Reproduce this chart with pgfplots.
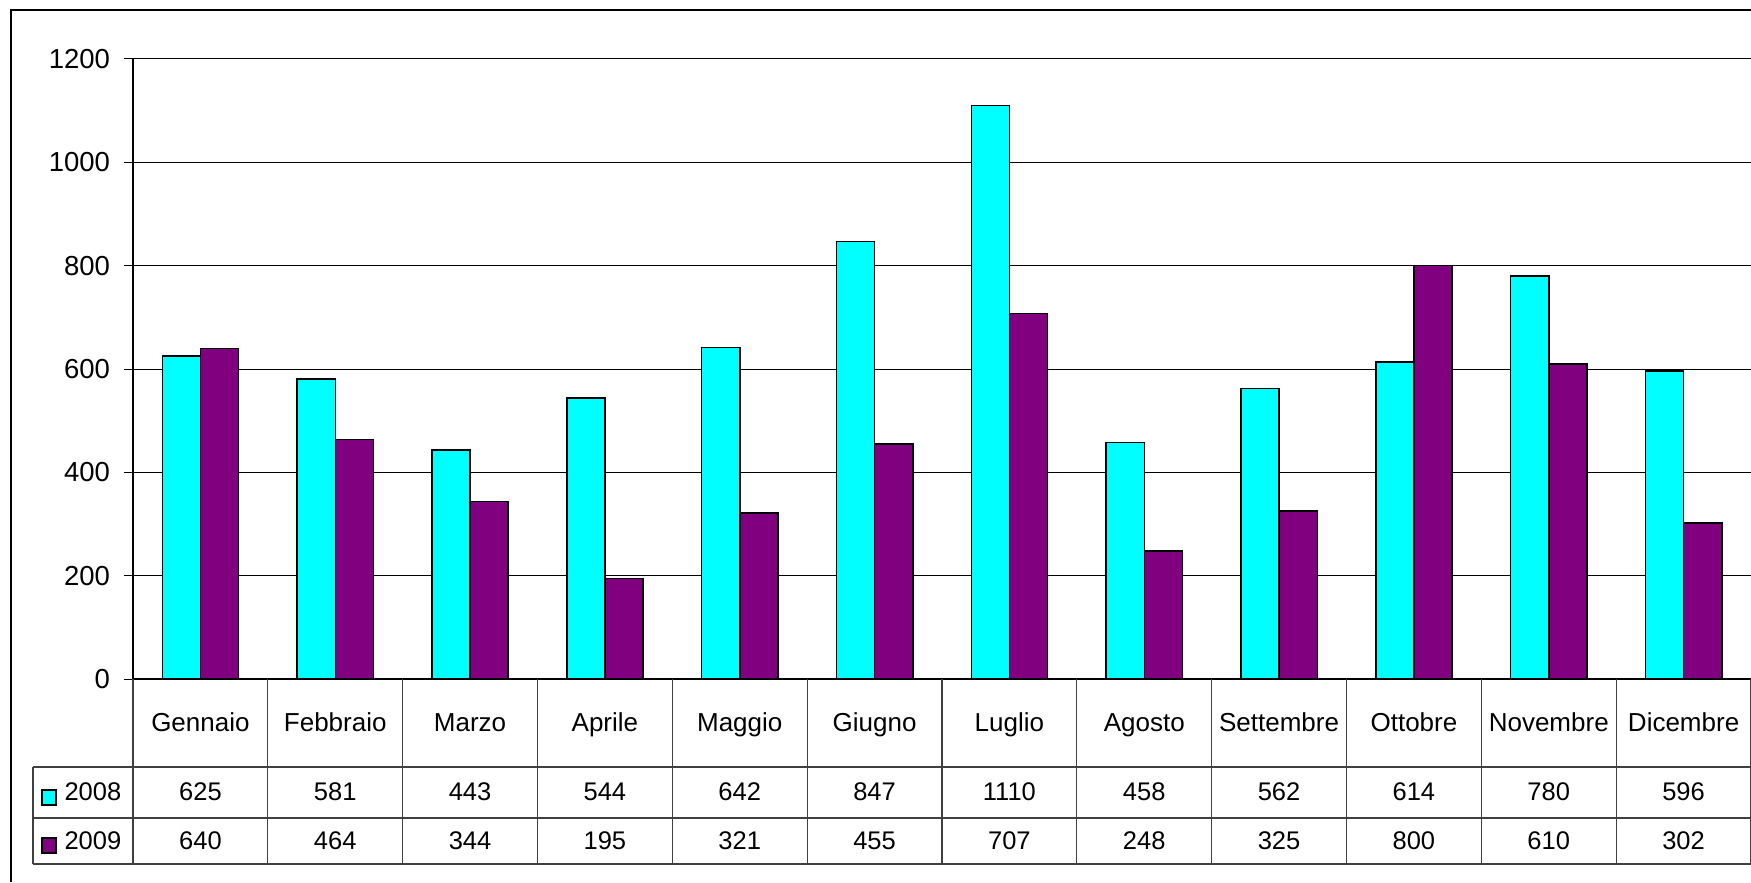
\documentclass[border=0pt]{standalone}
\usepackage{fontspec}
\setmainfont{Liberation Sans}
\usepackage{pgfplots}
\pgfplotsset{compat=1.18}
\newlength\px \setlength\px{0.4pt}
\definecolor{c08}{RGB}{0,255,255}
\definecolor{c09}{RGB}{128,0,128}
\begin{document}
\fontsize{10.2}{12}\selectfont
\begin{tikzpicture}
\path[use as bounding box] (0,0) rectangle (1751\px,882\px);
\begin{axis}[
  at={(133\px,203\px)}, anchor=south west,
  scale only axis, width=1618\px, height=620\px,
  xmin=-0.5, xmax=11.5, ymin=0, ymax=1200,
  ytick={0,200,...,1200},
  xtick={0,...,11},
  xticklabels={Gennaio,Febbraio,Marzo,Aprile,Maggio,Giugno,Luglio,Agosto,Settembre,Ottobre,Novembre,Dicembre},
  axis lines*=left,
  axis line style={-, black, line width=1.2\px},
  ymajorgrids, major grid style={black, line width=1\px},
  tick align=outside, major tick length=9\px,
  ytick style={black, line width=1\px},
  xtick style={draw=none},
  yticklabel style={xshift=-5\px, font=\fontsize{11}{13}\selectfont},
  xticklabel style={anchor=base, yshift=-43\px, font=\fontsize{10.4}{12}\selectfont},
  /pgf/number format/assume math mode=true,
  /pgf/number format/1000 sep={},
  ybar, bar width=0.283,
  clip=false,
]
\addplot[fill=c08, draw=black, line width=1.5\px, bar shift=-0.1415] coordinates {
(0,625) (1,581) (2,443) (3,544) (4,642) (5,847) (6,1110) (7,458) (8,562) (9,614) (10,780) (11,596)};
\addplot[fill=c09, draw=black, line width=1.5\px, bar shift=0.1415] coordinates {
(0,640) (1,464) (2,344) (3,195) (4,321) (5,455) (6,707) (7,248) (8,325) (9,800) (10,610) (11,302)};
\end{axis}
% outer frame (left and top)
\draw[black, line width=2\px] (11\px,0) -- (11\px,872\px) -- (1751\px,872\px);
% data table
\begin{scope}[line width=1.2\px, draw=black!75]
\draw (33\px,115\px) -- (1751\px,115\px);
\draw (33\px,64\px) -- (1751\px,64\px);
\draw (33\px,18\px) -- (1751\px,18\px);
\draw (33\px,115\px) -- (33\px,18\px);
\foreach \k in {0,...,12} {
  \draw ({(133+\k*134.83)*\px},203\px) -- ({(133+\k*134.83)*\px},18\px);
}
\end{scope}
\foreach \v [count=\i from 0] in {625,581,443,544,642,847,1110,458,562,614,780,596}
  \node[inner sep=0pt] at ({(133+(\i+0.5)*134.83)*\px},90\px) {\v};
\foreach \v [count=\i from 0] in {640,464,344,195,321,455,707,248,325,800,610,302}
  \node[inner sep=0pt] at ({(133+(\i+0.5)*134.83)*\px},41\px) {\v};
\filldraw[fill=c08, draw=black, line width=1.5\px] (42\px,77\px) rectangle (56\px,92\px);
\filldraw[fill=c09, draw=black, line width=1.5\px] (42\px,29\px) rectangle (56\px,44\px);
\node[anchor=west, inner sep=0pt] at (64\px,90\px) {2008};
\node[anchor=west, inner sep=0pt] at (64\px,41\px) {2009};
\end{tikzpicture}
\end{document}
